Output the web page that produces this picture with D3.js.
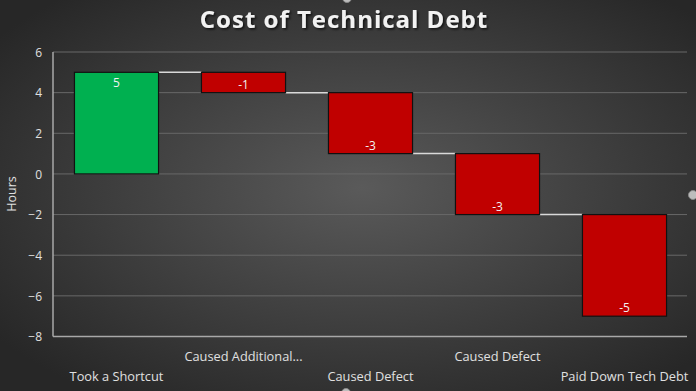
<!DOCTYPE html>
<html><head><meta charset="utf-8">
<script src="https://cdn.jsdelivr.net/npm/d3@7"></script>
<style>html,body{margin:0;padding:0;background:#333;}svg{display:block;}</style>
</head><body>
<script>
const categories = ["Took a Shortcut", "Caused Additional...", "Caused Defect", "Caused Defect", "Paid Down Tech Debt"];
const values = [5, -1, -3, -3, -5];
const yTicks = [-8, -6, -4, -2, 0, 2, 4, 6];
const title = "Cost of Technical Debt";
const yLabel = "Hours";

const W = 696, H = 391;
const svg = d3.select("body").append("svg").attr("width", W).attr("height", H);
const defs = svg.append("defs");
const rg = defs.append("radialGradient").attr("id","bg").attr("cx","52%").attr("cy","48%").attr("r","65%");
rg.append("stop").attr("offset","0%").attr("stop-color","#5a5a5a");
rg.append("stop").attr("offset","100%").attr("stop-color","#272727");
const sh = defs.append("filter").attr("id","shadow").attr("x","-10%").attr("y","-30%").attr("width","120%").attr("height","160%");
sh.append("feDropShadow").attr("dx",1.5).attr("dy",1.5).attr("stdDeviation",1.2).attr("flood-color","#000").attr("flood-opacity",0.7);

svg.append("rect").attr("width",W).attr("height",H).attr("fill","url(#bg)");

const x = d3.scaleBand().domain(d3.range(categories.length)).range([53, 688]).paddingInner(0.338).paddingOuter(0.169);
const y = d3.scaleLinear().domain([-8, 6]).range([336.5, 52]);

// running totals
let acc = 0;
const bars = values.map((v,i) => { const s = acc; acc += v; return {i, v, start: s, end: acc}; });

// gridlines
svg.append("g").selectAll("line").data(yTicks).join("line")
  .attr("x1",53).attr("x2",687).attr("y1",d=>y(d)).attr("y2",d=>y(d))
  .attr("stroke","#686868").attr("stroke-width",1);

// y axis
const yAxis = d3.axisLeft(y).tickValues(yTicks).tickSize(0).tickPadding(0).tickFormat(d3.format("d"));
const yg = svg.append("g").attr("transform","translate(42,0)").call(yAxis);
yg.select(".domain").remove();
yg.selectAll("text").attr("fill","#e0e0e0").attr("font-family","'Open Sans', sans-serif").attr("font-size",12).attr("dy","0.35em");

// axis lines
svg.append("line").attr("x1",53).attr("x2",53).attr("y1",y(6)).attr("y2",y(-8)).attr("stroke","#a8a8a8").attr("stroke-width",1.5);
svg.append("line").attr("x1",53).attr("x2",687).attr("y1",y(-8)).attr("y2",y(-8)).attr("stroke","#a8a8a8").attr("stroke-width",1.5);

// connectors
svg.append("g").selectAll("line").data(bars.slice(0,-1)).join("line")
  .attr("x1",d=>x(d.i)+x.bandwidth()).attr("x2",d=>x(d.i+1))
  .attr("y1",d=>y(d.end)).attr("y2",d=>y(d.end))
  .attr("stroke","#d9d9d9").attr("stroke-width",1.5);

// bars
svg.append("g").selectAll("rect").data(bars).join("rect")
  .attr("x",d=>x(d.i)).attr("width",x.bandwidth())
  .attr("y",d=>y(Math.max(d.start,d.end))).attr("height",d=>Math.abs(y(d.start)-y(d.end)))
  .attr("fill",d=>d.v>=0?"#00b050":"#c00000").attr("stroke","#111").attr("stroke-width",1.2);

// value labels
svg.append("g").selectAll("text").data(bars).join("text")
  .attr("x",d=>x(d.i)+x.bandwidth()/2)
  .attr("y",d=>d.v>=0 ? y(d.end)+10 : y(d.end)-8)
  .attr("dy","0.35em").attr("text-anchor","middle")
  .attr("fill","#f2f2f2").attr("font-family","'Open Sans', sans-serif").attr("font-size",12)
  .text(d=>d.v);

// category labels (staggered)
svg.append("g").selectAll("text").data(categories).join("text")
  .attr("x",(d,i)=>x(i)+x.bandwidth()/2)
  .attr("y",(d,i)=> i%2===0 ? 377 : 357)
  .attr("dy","0.35em").attr("text-anchor","middle")
  .attr("fill","#e0e0e0").attr("font-family","'Open Sans', sans-serif").attr("font-size",12.8)
  .text(d=>d);

// y label
svg.append("text").attr("transform","translate(12,194) rotate(-90)")
  .attr("text-anchor","middle").attr("dy","0.35em")
  .attr("fill","#e0e0e0").attr("font-family","'Open Sans', sans-serif").attr("font-size",12.5)
  .text(yLabel);

// title
svg.append("text").attr("x",344).attr("y",20).attr("dy","0.35em").attr("text-anchor","middle")
  .attr("fill","#f2f2f2").attr("font-family","'Open Sans', sans-serif").attr("font-weight","bold").attr("font-size",24)
  .attr("letter-spacing",1).attr("filter","url(#shadow)")
  .text(title);

// selection handles
[[347,-2],[693,195],[346,393]].forEach(([cx,cy])=>{
  svg.append("circle").attr("cx",cx).attr("cy",cy).attr("r",4.5).attr("fill","#bdbdbd").attr("stroke","#888").attr("stroke-width",1);
});
</script>
</body></html>
